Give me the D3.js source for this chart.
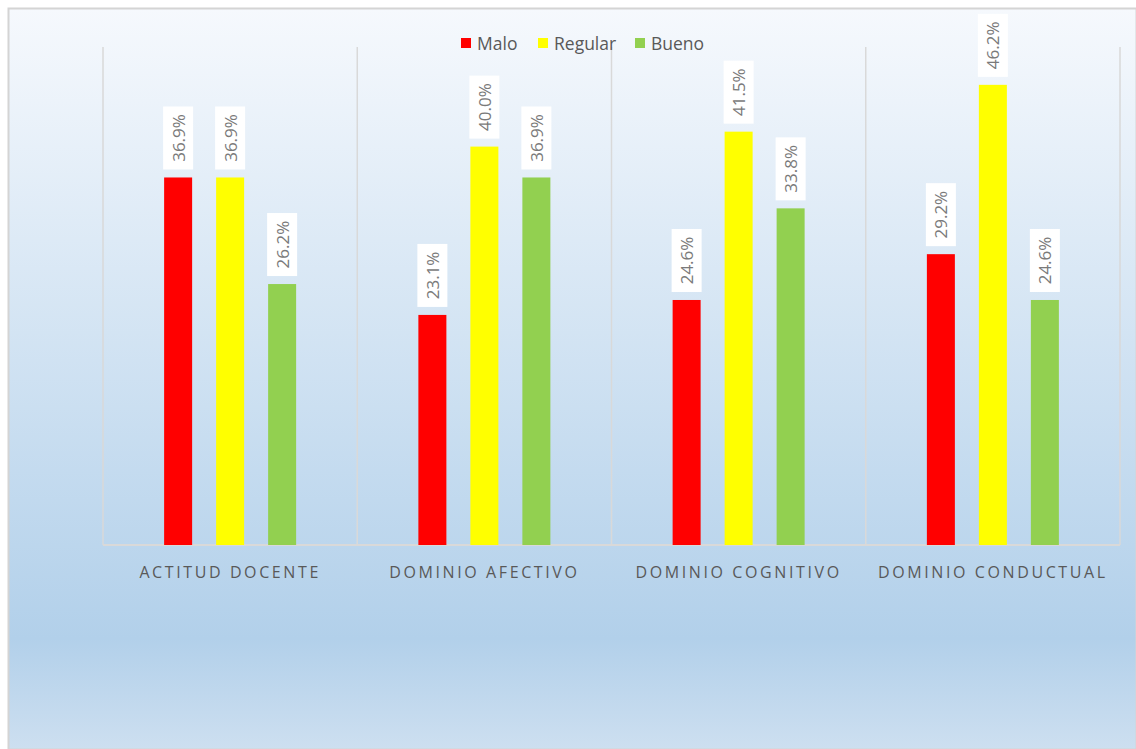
<!DOCTYPE html>
<html>
<head>
<meta charset="utf-8">
<script src="https://cdn.jsdelivr.net/npm/d3@7"></script>
<style>
  html, body { margin: 0; padding: 0; background: #fff; }
  svg { display: block; }
</style>
</head>
<body>
<svg id="stage"></svg>
<script>
/* ---------- data ---------- */

const categories = ["ACTITUD DOCENTE", "DOMINIO AFECTIVO", "DOMINIO COGNITIVO", "DOMINIO CONDUCTUAL"];
const series_names = ["Malo", "Regular", "Bueno"];
const series_colors = ["#ff0000", "#ffff00", "#92d050"];
const malo = [36.9, 23.1, 24.6, 29.2];
const regular = [36.9, 40.0, 41.5, 46.2];
const bueno = [26.2, 36.9, 33.8, 24.6];
const series_values = [malo, regular, bueno];

/* ---------- basic setup ---------- */

const width = 1136;
const height = 749;
const font = "'Open Sans', 'Noto Sans', sans-serif";
const text_color = "#595959";

const svg = d3.select("#stage")
  .attr("width", width)
  .attr("height", height);

const defs = svg.append("defs");
const grad = defs.append("linearGradient")
  .attr("id", "bg")
  .attr("x1", 0).attr("y1", 0).attr("x2", 0).attr("y2", 1);
grad.append("stop").attr("offset", "0%").attr("stop-color", "#f6f9fd");
grad.append("stop").attr("offset", "85%").attr("stop-color", "#b2d0ea");
grad.append("stop").attr("offset", "100%").attr("stop-color", "#cddff0");

svg.append("rect")
  .attr("x", 8.5).attr("y", 8.5)
  .attr("width", width - 8).attr("height", height - 8)
  .attr("fill", "url(#bg)")
  .attr("stroke", "#d4d4d4")
  .attr("stroke-width", 2);

/* ---------- scales ---------- */

const x = d3.scaleBand()
  .domain(categories)
  .range([103, 1120]);

const y = d3.scaleLinear()
  .domain([0, 50])
  .range([545, 47]);

const bar_w = 28;
const bar_step = 52;

/* ---------- grid ---------- */

const grid_x = categories.map(c => x(c)).concat([x.range()[1]]);
svg.append("g")
  .selectAll("line")
  .data(grid_x)
  .join("line")
  .attr("x1", d => d).attr("x2", d => d)
  .attr("y1", y(50)).attr("y2", y(0))
  .attr("stroke", "#d9d9d9")
  .attr("stroke-width", 1.5);

svg.append("line")
  .attr("x1", x.range()[0]).attr("x2", x.range()[1])
  .attr("y1", y(0)).attr("y2", y(0))
  .attr("stroke", "#d9d9d9")
  .attr("stroke-width", 2);

/* ---------- bars ---------- */

const bars = series_values.flatMap((vals, s) =>
  vals.map((v, i) => ({
    s, v,
    cx: x(categories[i]) + x.bandwidth() / 2 + (s - 1) * bar_step
  }))
);

svg.append("g")
  .selectAll("rect")
  .data(bars)
  .join("rect")
  .attr("x", d => d.cx - bar_w / 2)
  .attr("y", d => y(d.v))
  .attr("width", bar_w)
  .attr("height", d => y(0) - y(d.v))
  .attr("fill", d => series_colors[d.s]);

/* ---------- labels ---------- */

const label_h = 63;
const labels = svg.append("g")
  .selectAll("g")
  .data(bars)
  .join("g")
  .attr("transform", d => `translate(${d.cx}, ${y(d.v) - 8})`);

labels.append("rect")
  .attr("x", -bar_w / 2 - 1)
  .attr("y", -label_h)
  .attr("width", bar_w + 2)
  .attr("height", label_h)
  .attr("fill", "#ffffff");

labels.append("text")
  .attr("transform", `translate(0, ${-label_h / 2}) rotate(-90)`)
  .attr("text-anchor", "middle")
  .attr("dominant-baseline", "central")
  .attr("font-family", font)
  .attr("font-size", 17)
  .attr("fill", "#7a7a7a")
  .text(d => d.v.toFixed(1) + "%");

/* ---------- category axis ---------- */

svg.append("g")
  .selectAll("text")
  .data(categories)
  .join("text")
  .attr("x", d => x(d) + x.bandwidth() / 2)
  .attr("y", 578)
  .attr("text-anchor", "middle")
  .attr("font-family", font)
  .attr("font-size", 16)
  .attr("letter-spacing", 2.6)
  .attr("fill", text_color)
  .text(d => d);

/* ---------- legend ---------- */

const legend_x = [461, 538, 635];
const legend = svg.append("g")
  .selectAll("g")
  .data(series_names)
  .join("g")
  .attr("transform", (d, i) => `translate(${legend_x[i]}, 38)`);

legend.append("rect")
  .attr("width", 10).attr("height", 10)
  .attr("fill", (d, i) => series_colors[i]);

legend.append("text")
  .attr("x", 16)
  .attr("y", 5)
  .attr("dominant-baseline", "central")
  .attr("font-family", font)
  .attr("font-size", 17.5)
  .attr("fill", text_color)
  .text(d => d);
</script>
</body>
</html>
